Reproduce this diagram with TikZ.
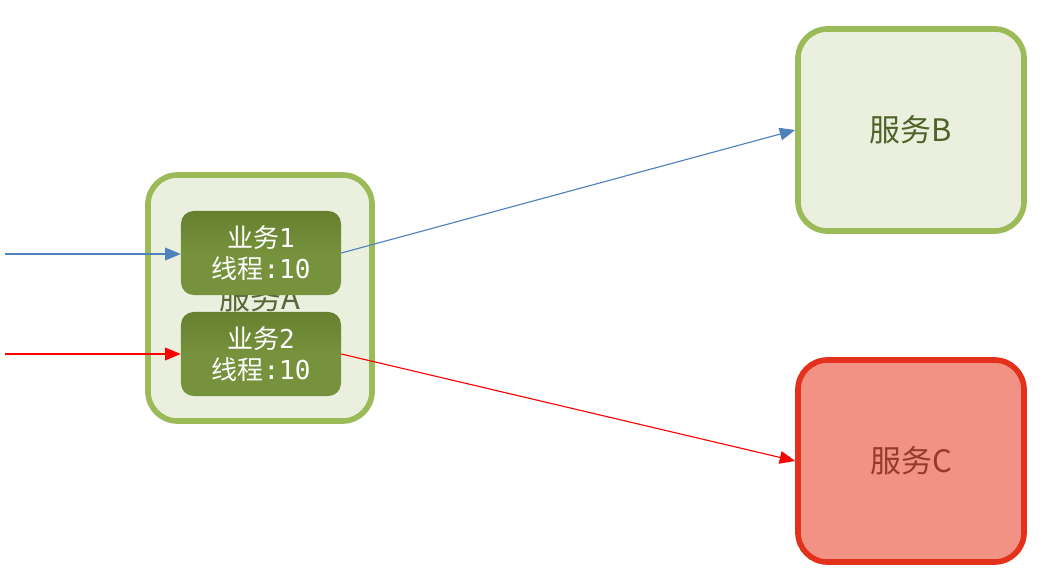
\documentclass[tikz,border=0pt]{standalone}
\usepackage{fontspec}
\newfontfamily\cjk{Noto Sans CJK SC}
\setmonofont{DejaVu Sans Mono}
\usetikzlibrary{arrows.meta}
\definecolor{svcfill}{HTML}{EBF0DE}
\definecolor{svcline}{HTML}{9BBB59}
\definecolor{svctext}{HTML}{4F6228}
\definecolor{bizfill}{HTML}{76923C}
\definecolor{bizdark}{HTML}{66802F}
\definecolor{badfill}{HTML}{F29285}
\definecolor{badline}{HTML}{E3311B}
\definecolor{badtext}{HTML}{943C2B}
\definecolor{callblue}{HTML}{4F81BD}
\tikzset{
  service/.style={draw=svcline, fill=svcfill, line width=4pt, rounded corners=21pt,
    minimum width=5.65cm, minimum height=5.05cm, text=svctext, font=\cjk\fontsize{22}{26}\selectfont},
  biz/.style={top color=bizdark, bottom color=bizfill, middle color=bizfill, rounded corners=9pt,
    minimum width=4cm, minimum height=2.1cm,
    text=white, align=center, font=\cjk\fontsize{18.5}{22.5}\selectfont},
  call/.style={-{Triangle[length=11pt,width=9pt]}, line width=0.8pt}
}
\newcommand{\bizlabel}[1]{业务\texttt{#1}\\线程\texttt{:10}}
\begin{document}
\begin{tikzpicture}[x=0.025cm, y=-0.025cm]
  \useasboundingbox (0,0) rectangle (1048,585);

  % Service A
  \node[service, minimum width=5.6cm, minimum height=6.15cm, text=svctext!80!gray] (sa) at (260,298) {服务A};
  \node[biz] (b1) at (261,253) {\bizlabel{1}};
  \node[biz] (b2) at (261,354) {\bizlabel{2}};

  % Service B, C
  \node[service] (sb) at (911,130) {服务B};
  \node[service, draw=badline, fill=badfill, text=badtext] (sc) at (911,461) {服务C};

  % calls
  \coordinate (in1) at (5,254);
  \coordinate (in2) at (5,354);
  \draw[call, callblue] (in1) -- (b1.west |- in1);
  \draw[call, red] (in2) -- (b2.west |- in2);
  \draw[call, callblue] (b1.east) -- (sb.west);
  \draw[call, red] (b2.east) -- (sc.west);
\end{tikzpicture}
\end{document}
